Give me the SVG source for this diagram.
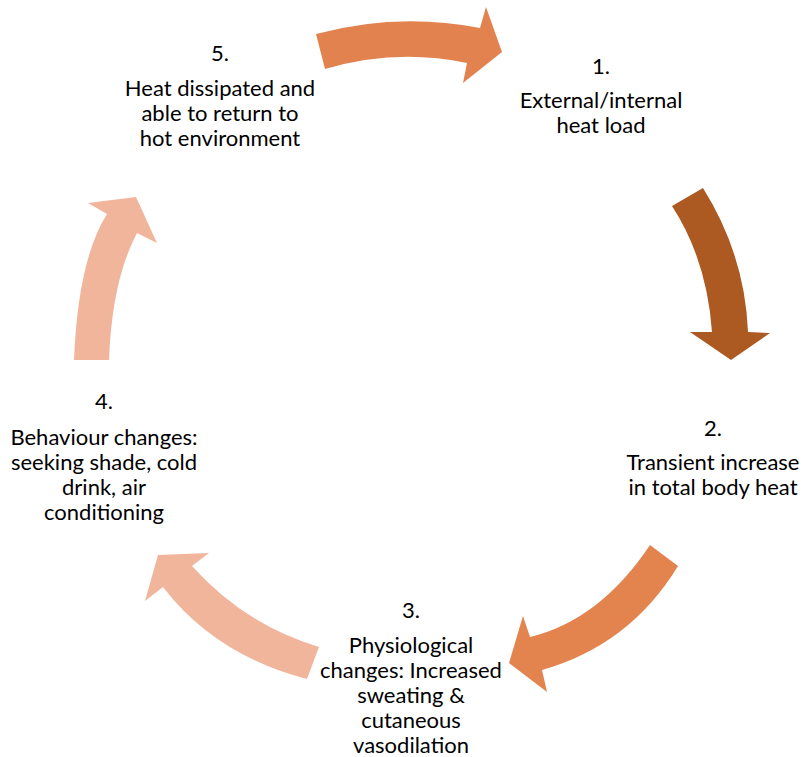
<svg xmlns="http://www.w3.org/2000/svg" width="804" height="757" viewBox="0 0 804 757">
<style>
.t{font-family:Lato,"Open Sans","Liberation Sans",sans-serif;font-size:22px;fill:#000;text-anchor:middle}
.a1{fill:#E2824E}
.a2{fill:#AD5A22}
.a3{fill:#E3834E}
.a4{fill:#F1B59C}
</style>
<rect width="804" height="757" fill="#fff"/>
<g id="connectors">
<path class="a1" d="M316,34 Q398,12 480,28 L486,7 L502,52 L463,83 L467,63 Q396,48 325,69 Z"/>
<path class="a2" d="M703,188 Q745,255 748,332 L770,333 L731,360 L690,332 L712,332 Q707,260 672,206 Z"/>
<path class="a3" d="M650,545 Q600,620 530,637 L523,616 L509,663 L547,692 L542,670 Q630,645 678,566 Z"/>
<path class="a4" d="M319,647 Q245,625 192,566 L209,553 L158,555 L145,601 L163,587 Q215,655 307,679 Z"/>
<path class="a4" d="M74,360 Q78,260 107,214 L88,203 L136,197 L157,243 L137,233 Q112,280 109,360 Z"/>
</g>
<g id="node1">
<text class="t" x="601" y="74">1.</text>
<text class="t" x="601" y="108">External/internal</text>
<text class="t" x="601" y="133">heat load</text>
</g>
<g id="node2">
<text class="t" x="713" y="436">2.</text>
<text class="t" x="713" y="470">Transient increase</text>
<text class="t" x="713" y="495">in total body heat</text>
</g>
<g id="node3">
<text class="t" x="411" y="618">3.</text>
<text class="t" x="411" y="653">Physiological</text>
<text class="t" x="411" y="678">changes: Increased</text>
<text class="t" x="411" y="703">sweating &amp;</text>
<text class="t" x="411" y="728">cutaneous</text>
<text class="t" x="411" y="753">vasodilation</text>
</g>
<g id="node4">
<text class="t" x="104" y="409">4.</text>
<text class="t" x="104" y="445">Behaviour changes:</text>
<text class="t" x="104" y="470">seeking shade, cold</text>
<text class="t" x="104" y="495">drink, air</text>
<text class="t" x="104" y="520">conditioning</text>
</g>
<g id="node5">
<text class="t" x="220" y="61">5.</text>
<text class="t" x="220" y="96">Heat dissipated and</text>
<text class="t" x="220" y="121">able to return to</text>
<text class="t" x="220" y="146">hot environment</text>
</g>
</svg>
